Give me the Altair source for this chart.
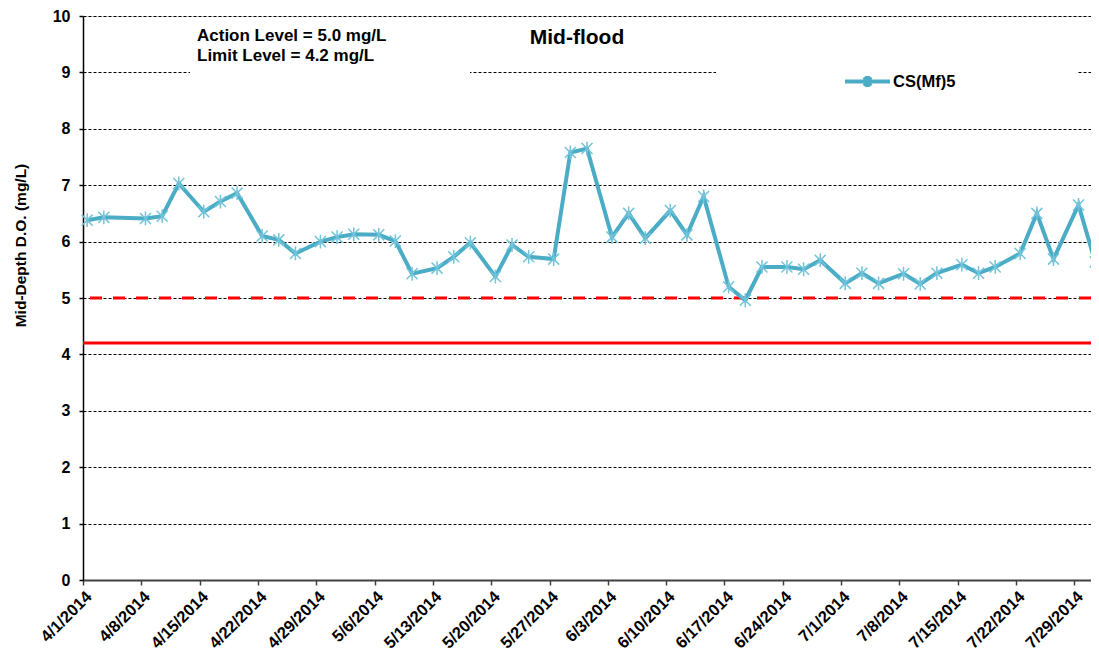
import altair as alt
import pandas as pd

# ---------------- data ----------------
SAMPLE_DATES = [
    "2014-04-01", "2014-04-03", "2014-04-08", "2014-04-10", "2014-04-12",
    "2014-04-15", "2014-04-17", "2014-04-19", "2014-04-22", "2014-04-24",
    "2014-04-26", "2014-04-29", "2014-05-01", "2014-05-03", "2014-05-06",
    "2014-05-08", "2014-05-10", "2014-05-13", "2014-05-15", "2014-05-17",
    "2014-05-20", "2014-05-22", "2014-05-24", "2014-05-27", "2014-05-29",
    "2014-05-31", "2014-06-03", "2014-06-05", "2014-06-07", "2014-06-10",
    "2014-06-12", "2014-06-14", "2014-06-17", "2014-06-19", "2014-06-21",
    "2014-06-24", "2014-06-26", "2014-06-28", "2014-07-01", "2014-07-03",
    "2014-07-05", "2014-07-08", "2014-07-10", "2014-07-12", "2014-07-15",
    "2014-07-17", "2014-07-19", "2014-07-22", "2014-07-24", "2014-07-26",
    "2014-07-29", "2014-07-31",
]
SAMPLE_TIME = "12:00:00"
DO_VALUES = [
    6.38, 6.43, 6.41, 6.45, 7.03,
    6.53, 6.71, 6.86, 6.10, 6.03,
    5.79, 6.00, 6.08, 6.13, 6.12,
    6.01, 5.43, 5.53, 5.73, 5.98,
    5.38, 5.94, 5.73, 5.69, 7.58,
    7.65, 6.08, 6.50, 6.06, 6.55,
    6.12, 6.80, 5.20, 4.96, 5.55,
    5.55, 5.51, 5.67, 5.26, 5.44,
    5.26, 5.43, 5.25, 5.44, 5.59,
    5.44, 5.55, 5.79, 6.50, 5.69,
    6.65, 5.64,
]
SERIES_NAME = "CS(Mf)5"
ACTION_LEVEL = 5.0
LIMIT_LEVEL = 4.2
TICK_DATES = [
    "2014-04-01", "2014-04-08", "2014-04-15", "2014-04-22", "2014-04-29",
    "2014-05-06", "2014-05-13", "2014-05-20", "2014-05-27", "2014-06-03",
    "2014-06-10", "2014-06-17", "2014-06-24", "2014-07-01", "2014-07-08",
    "2014-07-15", "2014-07-22", "2014-07-29",
]
X_DOMAIN = ["2014-04-01", "2014-07-31"]
Y_TICKS = list(range(0, 11))
ANNOTATION = "Action Level = 5.0 mg/L\nLimit Level = 4.2 mg/L"
PANEL_TITLE = "Mid-flood"
Y_TITLE = "Mid-Depth D.O. (mg/L)"

FONT = "Liberation Sans"
LINE_COLOR = "#4BACC6"
MARKER_COLOR = "#72C4DA"
ASTERISK = "M0,-1L0,1M-0.8,-0.8L0.8,0.8M-0.8,0.8L0.8,-0.8"
LEGEND_SYMBOL = "M-1,0L1,0M0,-0.24L0,0.24M-0.14,-0.2L0.14,0.2M-0.14,0.2L0.14,-0.2"


def to_dt(s):
    y, m, d = (int(v) for v in s.split("-"))
    return alt.DateTime(year=y, month=m, date=d)


df = pd.DataFrame({
    "date": [d + "T" + SAMPLE_TIME for d in SAMPLE_DATES],
    "value": DO_VALUES,
    "series": [SERIES_NAME] * len(DO_VALUES),
})
levels = pd.DataFrame({"level": [ACTION_LEVEL, LIMIT_LEVEL],
                       "kind": ["action", "limit"]})
one = pd.DataFrame({"k": [0]})

x_enc = alt.X(
    "date:T",
    scale=alt.Scale(domain=[to_dt(X_DOMAIN[0]), to_dt(X_DOMAIN[1])]),
    axis=alt.Axis(
        values=[to_dt(t) for t in TICK_DATES],
        format="%-m/%-d/%Y",
        labelAngle=-45,
        labelOverlap=False,
        labelFont=FONT, labelFontSize=16.5, labelFontWeight="bold", labelColor="#000000",
        labelPadding=3,
        grid=False,
        domainColor="#404040", domainWidth=2,
        tickColor="#404040", tickSize=5, tickWidth=1.5,
        title=None,
    ),
)
y_scale = alt.Scale(domain=[0, 10], nice=False, zero=True)
y_axis = alt.Axis(
    values=Y_TICKS,
    format="d",
    labelFont=FONT, labelFontSize=16, labelFontWeight="bold", labelColor="#000000",
    labelPadding=9,
    grid=True, gridColor="#000000", gridDash=[3, 2], gridWidth=1,
    domainColor="#000000", domainWidth=1.5,
    tickColor="#000000", tickSize=4, tickWidth=1.5,
    title=Y_TITLE,
    titleFont=FONT, titleFontSize=15.5, titleFontWeight="bold", titleColor="#000000",
    titleX=-63, titleY=229, titleAlign="center", titleBaseline="middle", titleAngle=-90,
)

# white boxes behind the annotation text and legend (hide the 9 gridline)
gap_boxes = alt.Chart(pd.DataFrame({"x0": [107, 633], "x1": [387, 995]})).mark_rect(
    color="white"
).encode(
    x=alt.X("x0:Q", scale=None), x2="x1:Q",
    y=alt.value(51), y2=alt.value(62),
)

level_rules = alt.Chart(levels).mark_rule(color="#FF0000", strokeWidth=3).encode(
    y=alt.Y("level:Q", scale=y_scale, axis=y_axis),
    strokeDash=alt.StrokeDash(
        "kind:N",
        scale=alt.Scale(domain=["action", "limit"], range=[[12, 11], [1, 0]]),
        legend=None,
    ),
)

line = alt.Chart(df).mark_line(strokeWidth=4).encode(
    x=x_enc,
    y=alt.Y("value:Q", scale=y_scale, axis=y_axis),
    color=alt.Color(
        "series:N",
        scale=alt.Scale(domain=[SERIES_NAME], range=[LINE_COLOR]),
        legend=alt.Legend(
            title=None, orient="none", legendX=760, legendY=41,
            symbolType=LEGEND_SYMBOL, symbolSize=2025, symbolStrokeWidth=4,
            labelFont=FONT, labelFontSize=16.5, labelFontWeight="bold", labelColor="#000000",
            labelOffset=1, padding=0,
        ),
    ),
)

points = alt.Chart(df).mark_point(
    shape=ASTERISK, size=190, filled=False, color=MARKER_COLOR, strokeWidth=1.5, opacity=1
).encode(
    x=x_enc,
    y=alt.Y("value:Q", scale=y_scale, axis=y_axis),
)

annotation = alt.Chart(one).mark_text(
    text=ANNOTATION, lineBreak="\n", lineHeight=20,
    font=FONT, fontSize=17, fontWeight="bold", color="#000000",
    align="left", baseline="middle",
).encode(x=alt.value(114), y=alt.value(20))

panel_title = alt.Chart(one).mark_text(
    text=PANEL_TITLE,
    font=FONT, fontSize=21, fontWeight="bold", color="#000000",
    align="center", baseline="middle",
).encode(x=alt.value(494), y=alt.value(22))

chart = alt.layer(
    gap_boxes, level_rules, line, points, annotation, panel_title
).properties(
    width=1008, height=564,
    autosize=alt.AutoSizeParams(type="none"),
    padding={"left": 75, "top": 8, "right": 0, "bottom": 74},
).configure_view(stroke=None).configure(background="white")

chart.save("out.html", embed_options={"renderer": "svg", "actions": False})
